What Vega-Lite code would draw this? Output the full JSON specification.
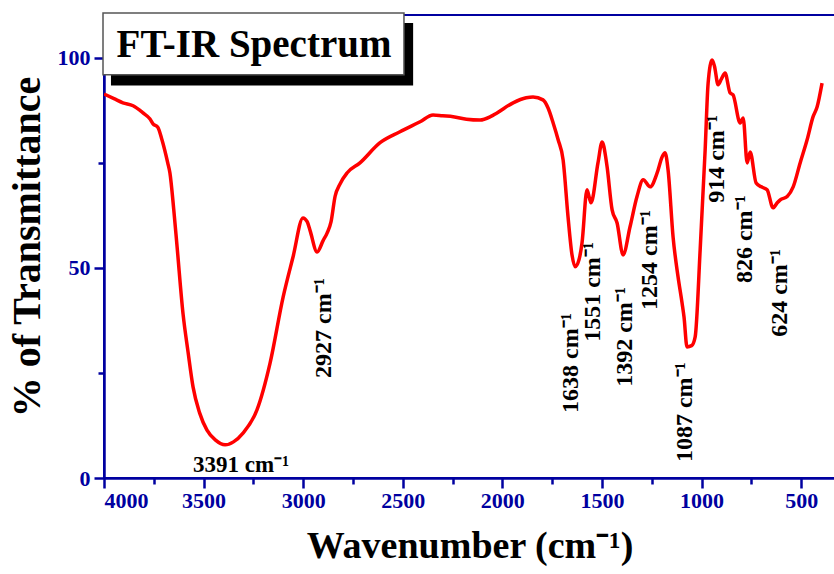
{
  "$schema": "https://vega.github.io/schema/vega-lite/v6.json",
  "autosize": "none",
  "width": 731,
  "height": 463,
  "padding": {"left": 104, "top": 15, "right": 0, "bottom": 96},
  "background": "white",
  "config": {
    "view": {"stroke": "#0000a0", "strokeWidth": 2},
    "font": "Liberation Serif"
  },
  "datasets": {
    "spectrum": [
      {"w": 4000, "t": 91.4}, {"w": 3950, "t": 90.3}, {"w": 3905, "t": 89.3}, {"w": 3854, "t": 88.6},
      {"w": 3804, "t": 86.9}, {"w": 3770, "t": 85.5}, {"w": 3754, "t": 84.3}, {"w": 3730, "t": 83.5},
      {"w": 3709, "t": 80.5}, {"w": 3680, "t": 75}, {"w": 3669, "t": 72.6}, {"w": 3650, "t": 64},
      {"w": 3633, "t": 55}, {"w": 3603, "t": 39}, {"w": 3578, "t": 30}, {"w": 3553, "t": 21.7},
      {"w": 3520, "t": 15.5}, {"w": 3483, "t": 11.4}, {"w": 3440, "t": 9}, {"w": 3392, "t": 7.9},
      {"w": 3350, "t": 8.6}, {"w": 3302, "t": 10.7}, {"w": 3232, "t": 16.2}, {"w": 3166, "t": 27.4},
      {"w": 3101, "t": 43}, {"w": 3051, "t": 52.6}, {"w": 3001, "t": 61.9}, {"w": 2980, "t": 61},
      {"w": 2966, "t": 59}, {"w": 2930, "t": 53.8}, {"w": 2900, "t": 56.5}, {"w": 2880, "t": 58.3},
      {"w": 2860, "t": 61}, {"w": 2840, "t": 67}, {"w": 2815, "t": 70}, {"w": 2780, "t": 72.6},
      {"w": 2715, "t": 75}, {"w": 2614, "t": 79.8}, {"w": 2514, "t": 82.4}, {"w": 2413, "t": 84.8},
      {"w": 2348, "t": 86.4}, {"w": 2300, "t": 86.2}, {"w": 2247, "t": 86}, {"w": 2180, "t": 85.4},
      {"w": 2112, "t": 85.2}, {"w": 2060, "t": 86}, {"w": 2027, "t": 86.9}, {"w": 1946, "t": 89.3},
      {"w": 1880, "t": 90.5}, {"w": 1846, "t": 90.7}, {"w": 1796, "t": 90}, {"w": 1770, "t": 88},
      {"w": 1745, "t": 84.5}, {"w": 1720, "t": 80.5}, {"w": 1695, "t": 75.7}, {"w": 1670, "t": 62},
      {"w": 1650, "t": 53}, {"w": 1635, "t": 50.3}, {"w": 1615, "t": 52}, {"w": 1600, "t": 56},
      {"w": 1575, "t": 68.6}, {"w": 1555, "t": 65.5}, {"w": 1520, "t": 75}, {"w": 1499, "t": 80},
      {"w": 1480, "t": 76}, {"w": 1474, "t": 74}, {"w": 1449, "t": 63.8}, {"w": 1424, "t": 60.7},
      {"w": 1394, "t": 53.1}, {"w": 1359, "t": 59.8}, {"w": 1324, "t": 67}, {"w": 1293, "t": 71},
      {"w": 1258, "t": 69.3}, {"w": 1223, "t": 72.6}, {"w": 1198, "t": 76.4}, {"w": 1183, "t": 77.4},
      {"w": 1168, "t": 73.3}, {"w": 1143, "t": 57.4}, {"w": 1118, "t": 47.9}, {"w": 1098, "t": 41.7},
      {"w": 1088, "t": 38.3}, {"w": 1073, "t": 31.2}, {"w": 1050, "t": 31.5}, {"w": 1032, "t": 33.6},
      {"w": 1007, "t": 54.3}, {"w": 982, "t": 78}, {"w": 967, "t": 94}, {"w": 947, "t": 99.5},
      {"w": 935, "t": 98}, {"w": 917, "t": 93.6}, {"w": 900, "t": 95}, {"w": 882, "t": 96.4},
      {"w": 857, "t": 91.7}, {"w": 842, "t": 91.2}, {"w": 806, "t": 84.5}, {"w": 791, "t": 85.7},
      {"w": 771, "t": 75}, {"w": 756, "t": 77.6}, {"w": 726, "t": 70.2}, {"w": 700, "t": 69.3},
      {"w": 671, "t": 68.6}, {"w": 641, "t": 64.3}, {"w": 620, "t": 65.5}, {"w": 605, "t": 66.2},
      {"w": 570, "t": 67}, {"w": 540, "t": 69.3}, {"w": 505, "t": 75}, {"w": 470, "t": 80.5},
      {"w": 440, "t": 86}, {"w": 420, "t": 88.3}, {"w": 395, "t": 94}
    ],
    "peaks": [
      {"w": 2895, "t": 23.8, "label": "2927 cm⁻¹"},
      {"w": 1655, "t": 15.5, "label": "1638 cm⁻¹"},
      {"w": 1544, "t": 32.4, "label": "1551 cm⁻¹"},
      {"w": 1384, "t": 21.7, "label": "1392 cm⁻¹"},
      {"w": 1258, "t": 40, "label": "1254 cm⁻¹"},
      {"w": 1083, "t": 3.8, "label": "1087 cm⁻¹"},
      {"w": 922, "t": 65.5, "label": "914 cm⁻¹"},
      {"w": 781, "t": 46.4, "label": "826 cm⁻¹"},
      {"w": 605, "t": 33.6, "label": "624 cm⁻¹"}
    ],
    "mainpeak": [
      {"w": 3312, "t": 3.1, "label": "3391 cm⁻¹"}
    ],
    "titlebox": [
      {"name": "FT-IR Spectrum"}
    ]
  },
  "layer": [
    {
      "data": {"name": "spectrum"},
      "mark": {"type": "line", "color": "#ff0000", "strokeWidth": 3.5, "interpolate": "monotone", "clip": true},
      "encoding": {
        "x": {
          "field": "w", "type": "quantitative",
          "scale": {"domain": [4000, 330], "nice": false, "zero": false},
          "axis": {
            "values": [4000, 3750, 3500, 3250, 3000, 2750, 2500, 2250, 2000, 1750, 1500, 1250, 1000, 750, 500],
            "format": "d",
            "labelExpr": "datum.value % 500 === 0 ? datum.label : ''",
            "labelOverlap": false,
            "grid": false,
            "title": "Wavenumber (cm⁻¹)",
            "titleFont": "Liberation Serif", "titleFontSize": 38, "titleFontWeight": "bold", "titleColor": "#000000",
            "titlePadding": 16,
            "labelFont": "Liberation Serif", "labelFontSize": 22, "labelFontWeight": "bold", "labelColor": "#0000a0",
            "labelPadding": 2,
            "domainColor": "#0000a0", "domainWidth": 2.5,
            "tickColor": "#0000a0", "tickWidth": 2.5,
            "tickSize": {"condition": {"test": "datum.value % 500 === 0", "value": 10}, "value": 6}
          }
        },
        "y": {
          "field": "t", "type": "quantitative",
          "scale": {"domain": [0, 110.2], "nice": false},
          "axis": {
            "values": [0, 25, 50, 75, 100],
            "format": "d",
            "labelExpr": "datum.value % 50 === 0 ? datum.label : ''",
            "labelOverlap": false,
            "grid": false,
            "title": "% of Transmittance",
            "titleFont": "Liberation Serif", "titleFontSize": 40, "titleFontWeight": "bold", "titleColor": "#000000",
            "titlePadding": 10,
            "labelFont": "Liberation Serif", "labelFontSize": 22, "labelFontWeight": "bold", "labelColor": "#0000a0",
            "labelPadding": 4,
            "domainColor": "#0000a0", "domainWidth": 2.5,
            "tickColor": "#0000a0", "tickWidth": 2.5,
            "tickSize": {"condition": {"test": "datum.value % 50 === 0", "value": 10}, "value": 6}
          }
        }
      }
    },
    {
      "data": {"name": "peaks"},
      "mark": {"type": "text", "angle": 270, "align": "left", "baseline": "middle", "font": "Liberation Serif", "fontSize": 24, "fontWeight": "bold", "color": "#000000"},
      "encoding": {
        "x": {"field": "w", "type": "quantitative"},
        "y": {"field": "t", "type": "quantitative"},
        "text": {"field": "label"}
      }
    },
    {
      "data": {"name": "mainpeak"},
      "mark": {"type": "text", "align": "center", "baseline": "middle", "font": "Liberation Serif", "fontSize": 23, "fontWeight": "bold", "color": "#000000"},
      "encoding": {
        "x": {"field": "w", "type": "quantitative"},
        "y": {"field": "t", "type": "quantitative"},
        "text": {"field": "label"}
      }
    },
    {
      "data": {"name": "titlebox"},
      "mark": {"type": "rect", "color": "#000000", "clip": false},
      "encoding": {
        "x": {"datum": 3965}, "x2": {"datum": 2448},
        "y": {"datum": 108.3}, "y2": {"datum": 93.4}
      }
    },
    {
      "data": {"name": "titlebox"},
      "mark": {"type": "rect", "fill": "#ffffff", "stroke": "#555555", "strokeWidth": 1.5, "clip": false},
      "encoding": {
        "x": {"datum": 4005}, "x2": {"datum": 2494},
        "y": {"datum": 110.7}, "y2": {"datum": 96}
      }
    },
    {
      "data": {"name": "titlebox"},
      "mark": {"type": "text", "align": "center", "baseline": "middle", "font": "Liberation Serif", "fontSize": 39, "fontWeight": "bold", "color": "#000000", "clip": false},
      "encoding": {
        "x": {"datum": 3247}, "y": {"datum": 103.1},
        "text": {"field": "name"}
      }
    }
  ]
}
